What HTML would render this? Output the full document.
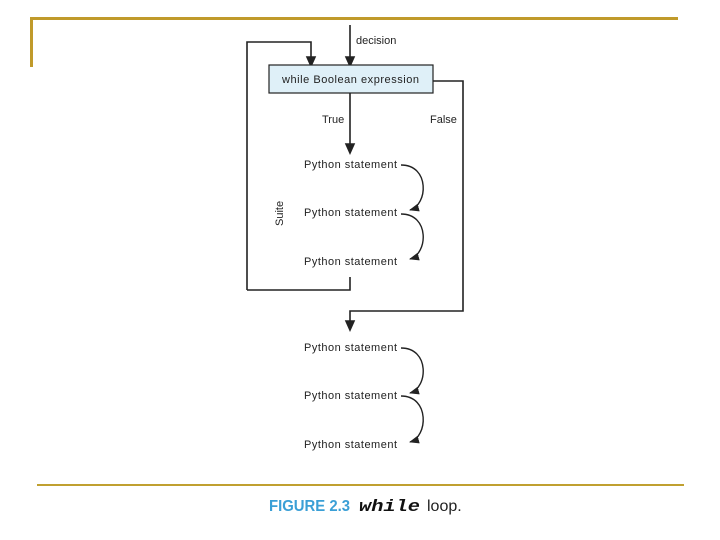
<!DOCTYPE html>
<html><head><style>
body{margin:0;background:#fff;}
svg{display:block;}
text{font-family:"Liberation Sans",sans-serif;font-size:11px;fill:#222;}
</style></head><body>
<svg width="720" height="540" viewBox="0 0 720 540">
<defs>
<marker id="b" markerWidth="10" markerHeight="8" refX="9" refY="4" orient="auto" markerUnits="userSpaceOnUse"><path d="M0,0 L10,4 L0,8 z" fill="#222"/></marker></defs>
<rect x="30" y="17" width="648" height="3" fill="#c09a2a"/>
<rect x="30" y="17" width="3" height="50" fill="#c09a2a"/>
<rect x="37" y="484" width="647" height="2" fill="#c0a030"/>
<g stroke="#222" stroke-width="1.6" fill="none">
<path d="M350,25 V57"/><path d="M350,57 l-4,0 l4,9 l4,-9z" fill="#222"/>
<path d="M247,290 V42 H311 V57"/><path d="M311,57 l-4,0 l4,9 l4,-9z" fill="#222"/>
<path d="M350,93 V144"/><path d="M350,144 l-4,0 l4,9 l4,-9z" fill="#222"/>
<path d="M350,277 V290 H247"/>
<path d="M433,81 H463 V311 H350 V321"/><path d="M350,321 l-4,0 l4,9 l4,-9z" fill="#222"/>
</g>
<rect x="269" y="65" width="164" height="28" fill="#dff0f8" stroke="#222" stroke-width="1.2"/>
<text x="282" y="83" font-size="12" textLength="137">while Boolean expression</text>
<text x="356" y="44" font-size="11.5">decision</text>
<text x="322" y="123" font-size="11.5">True</text>
<text x="430" y="123" font-size="11.5">False</text>
<text transform="translate(283,226) rotate(-90)" font-size="11.5">Suite</text>
<g font-size="11.8">
<text x="304" y="168" textLength="93">Python statement</text>
<text x="304" y="216" textLength="93">Python statement</text>
<text x="304" y="265" textLength="93">Python statement</text>
<text x="304" y="351" textLength="93">Python statement</text>
<text x="304" y="399" textLength="93">Python statement</text>
<text x="304" y="448" textLength="93">Python statement</text>
</g>
<g stroke="#222" stroke-width="1.4" fill="none">
<path d="M401,165 C430,165 428,205 410,210" marker-end="url(#b)"/>
<path d="M401,214 C430,214 428,254 410,259" marker-end="url(#b)"/>
<path d="M401,348 C430,348 428,388 410,393" marker-end="url(#b)"/>
<path d="M401,396 C430,396 428,437 410,442" marker-end="url(#b)"/>
</g>
<text x="269" y="511" textLength="81" lengthAdjust="spacingAndGlyphs" style="font-size:16px;font-weight:bold;fill:#3a9fd6;">FIGURE 2.3</text>
<text x="359" y="511" textLength="61" lengthAdjust="spacingAndGlyphs" style="font-family:'Liberation Mono',monospace;font-size:17px;font-weight:bold;font-style:italic;fill:#111;">while</text>
<text x="427" y="511" style="font-size:16px;fill:#222;">loop.</text>
</svg>
</body></html>
